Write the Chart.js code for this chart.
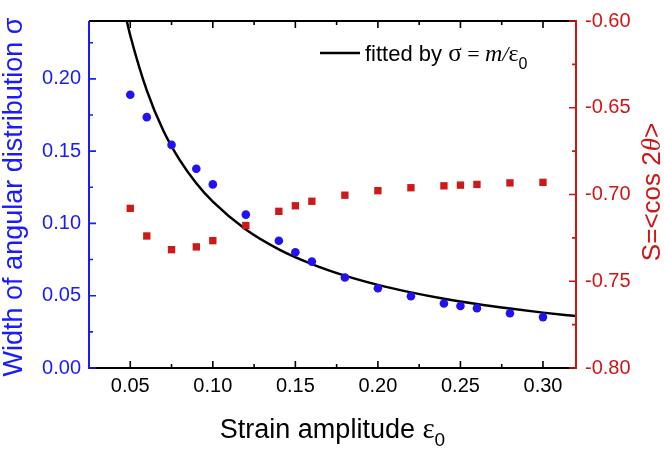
<!DOCTYPE html>
<html>
<head>
<meta charset="utf-8">
<script src="https://cdn.jsdelivr.net/npm/chart.js@4.4.1/dist/chart.umd.min.js"></script>
<style>
html,body{margin:0;padding:0;background:#fff;}
#wrap{width:664px;height:451px;position:relative;}
</style>
</head>
<body>
<div id="wrap"><canvas id="c" width="664" height="451"></canvas></div>
<script>
// ---- data ----
const strain = [0.05, 0.06, 0.075, 0.09, 0.10, 0.12, 0.14, 0.15, 0.16, 0.18, 0.20, 0.22, 0.24, 0.25, 0.26, 0.28, 0.30];
const widthSigma = [0.189, 0.1735, 0.1543, 0.1378, 0.127, 0.1061, 0.088, 0.0801, 0.0736, 0.0626, 0.0552, 0.0496, 0.0446, 0.0429, 0.0413, 0.0379, 0.0352];
const orderS = [-0.708, -0.7239, -0.7318, -0.7302, -0.7266, -0.7179, -0.7097, -0.7065, -0.7039, -0.7004, -0.6978, -0.6961, -0.695, -0.6946, -0.6942, -0.6933, -0.693];
const fitX = [0.0479, 0.05, 0.06, 0.07, 0.08, 0.09, 0.10, 0.12, 0.14, 0.16, 0.18, 0.20, 0.22, 0.24, 0.26, 0.28, 0.30, 0.32];
const fitY = [0.240, 0.230, 0.192, 0.1643, 0.1438, 0.1278, 0.115, 0.0958, 0.0821, 0.0719, 0.0639, 0.0575, 0.0523, 0.0479, 0.0442, 0.0411, 0.0383, 0.0359];

const xTickLabels = ['0.05', '0.10', '0.15', '0.20', '0.25', '0.30'];
const xMinorTicks = [0.075, 0.125, 0.175, 0.225, 0.275];
const leftTickLabels = ['0.00', '0.05', '0.10', '0.15', '0.20'];
const leftMinorTicks = [0.025, 0.075, 0.125, 0.175, 0.225];
const rightTickLabels = ['-0.80', '-0.75', '-0.70', '-0.65', '-0.60'];
const rightMinorTicks = [-0.775, -0.725, -0.675, -0.625];

const BLUE = '#1a1aff';
const BLUE_PT = '#2211f2';
const RED = '#d01515';
const RED_PT = '#cc1a1a';
const SANS = '"Liberation Sans", Arial, sans-serif';
const SERIF = '"Liberation Serif", "Times New Roman", serif';

function setTicks(labels) {
  return function (s) { s.ticks = labels.map(l => ({ value: parseFloat(l) })); };
}

// draw a run of text segments [text, font, dy]
function drawRun(ctx, segs, x, y, align) {
  let total = 0;
  segs.forEach(s => { ctx.font = s[1]; total += ctx.measureText(s[0]).width; });
  let cx = align === 'center' ? x - total / 2 : x;
  ctx.textAlign = 'left';
  segs.forEach(s => {
    ctx.font = s[1];
    ctx.fillText(s[0], cx, y + (s[2] || 0));
    cx += ctx.measureText(s[0]).width;
  });
}

const decor = {
  id: 'decor',
  afterDatasetsDraw(chart) {
    const ctx = chart.ctx;
    const x = chart.scales.x, yl = chart.scales.yl, yr = chart.scales.yr;
    const a = chart.chartArea;
    ctx.save();
    ctx.lineCap = 'butt';
    // axis lines
    ctx.lineWidth = 2;
    ctx.strokeStyle = '#000';
    ctx.beginPath();
    ctx.moveTo(a.left, a.bottom); ctx.lineTo(a.right, a.bottom);
    ctx.moveTo(a.left, a.top); ctx.lineTo(a.right, a.top);
    ctx.stroke();
    ctx.strokeStyle = BLUE;
    ctx.beginPath(); ctx.moveTo(a.left, a.top); ctx.lineTo(a.left, a.bottom + 1); ctx.stroke();
    ctx.strokeStyle = RED;
    ctx.beginPath(); ctx.moveTo(a.right, a.top - 1); ctx.lineTo(a.right, a.bottom + 1); ctx.stroke();
    // ticks (inward)
    ctx.lineWidth = 1.6;
    ctx.strokeStyle = '#000';
    ctx.beginPath();
    xTickLabels.forEach(l => {
      const px = x.getPixelForValue(parseFloat(l));
      ctx.moveTo(px, a.bottom); ctx.lineTo(px, a.bottom - 7);
      ctx.moveTo(px, a.top); ctx.lineTo(px, a.top + 7);
    });
    xMinorTicks.forEach(v => {
      const px = x.getPixelForValue(v);
      ctx.moveTo(px, a.bottom); ctx.lineTo(px, a.bottom - 4);
      ctx.moveTo(px, a.top); ctx.lineTo(px, a.top + 4);
    });
    ctx.stroke();
    ctx.strokeStyle = BLUE;
    ctx.beginPath();
    leftTickLabels.forEach(l => {
      const py = yl.getPixelForValue(parseFloat(l));
      ctx.moveTo(a.left, py); ctx.lineTo(a.left + 7, py);
    });
    leftMinorTicks.forEach(v => {
      const py = yl.getPixelForValue(v);
      ctx.moveTo(a.left, py); ctx.lineTo(a.left + 4, py);
    });
    ctx.stroke();
    ctx.strokeStyle = RED;
    ctx.beginPath();
    rightTickLabels.forEach(l => {
      const py = yr.getPixelForValue(parseFloat(l));
      ctx.moveTo(a.right, py); ctx.lineTo(a.right - 7, py);
    });
    rightMinorTicks.forEach(v => {
      const py = yr.getPixelForValue(v);
      ctx.moveTo(a.right, py); ctx.lineTo(a.right - 4, py);
    });
    ctx.stroke();

    // legend
    ctx.strokeStyle = '#000';
    ctx.lineWidth = 2.5;
    ctx.beginPath(); ctx.moveTo(320, 53); ctx.lineTo(360, 53); ctx.stroke();
    ctx.fillStyle = '#000';
    ctx.textBaseline = 'alphabetic';
    drawRun(ctx, [
      ['fitted by ', '22px ' + SANS],
      ['\u03C3', '25px ' + SERIF],
      [' = ', '22px ' + SERIF],
      ['m', 'italic 24px ' + SERIF],
      ['/', 'italic 22px ' + SERIF],
      ['\u03B5', '24px ' + SERIF],
      ['0', '16px ' + SANS, 8]
    ], 365, 61, 'left');

    // x title
    ctx.fillStyle = '#000';
    drawRun(ctx, [
      ['Strain amplitude ', '27px ' + SANS],
      ['\u03B5', '29px ' + SERIF],
      ['0', '19px ' + SANS, 8]
    ], (a.left + a.right) / 2, 438, 'center');

    // left title
    ctx.save();
    ctx.translate(15, 197);
    ctx.rotate(-Math.PI / 2);
    ctx.fillStyle = BLUE;
    ctx.textBaseline = 'middle';
    drawRun(ctx, [
      ['Width of angular distribution ', '27px ' + SANS],
      ['\u03C3', '27px ' + SANS]
    ], 0, 0, 'center');
    ctx.restore();

    // right title
    ctx.save();
    ctx.translate(653, 192);
    ctx.rotate(-Math.PI / 2);
    ctx.fillStyle = RED;
    ctx.textBaseline = 'middle';
    drawRun(ctx, [
      ['S=<cos 2', '26px ' + SANS],
      ['\u03B8', 'italic 27px ' + SERIF],
      ['>', '26px ' + SANS]
    ], 0, 0, 'center');
    ctx.restore();

    ctx.restore();
  }
};

new Chart(document.getElementById('c'), {
  type: 'scatter',
  data: {
    datasets: [
      {
        label: 'fit',
        type: 'line',
        data: fitX.map((v, i) => ({ x: v, y: fitY[i] })),
        yAxisID: 'yl',
        borderColor: '#000',
        borderWidth: 2.5,
        pointRadius: 0,
        fill: false,
        cubicInterpolationMode: 'monotone',
        order: 3
      },
      {
        label: 'width',
        data: strain.map((v, i) => ({ x: v, y: widthSigma[i] })),
        yAxisID: 'yl',
        pointStyle: 'circle',
        pointRadius: 4.3,
        pointBorderWidth: 0,
        backgroundColor: BLUE_PT,
        borderColor: BLUE_PT,
        order: 1
      },
      {
        label: 'S',
        data: strain.map((v, i) => ({ x: v, y: orderS[i] })),
        yAxisID: 'yr',
        pointStyle: 'rect',
        pointRadius: 5.2,
        pointBorderWidth: 0,
        backgroundColor: RED_PT,
        borderColor: RED_PT,
        order: 2
      }
    ]
  },
  options: {
    responsive: false,
    devicePixelRatio: 1,
    animation: false,
    layout: { padding: { top: 10, left: 0, right: 0, bottom: 0 } },
    plugins: { legend: { display: false }, tooltip: { enabled: false }, title: { display: false } },
    scales: {
      x: {
        type: 'linear', position: 'bottom', min: 0.025, max: 0.32,
        grid: { display: false, drawTicks: false }, border: { display: false },
        afterBuildTicks: setTicks(xTickLabels),
        afterFit: s => { s.height = 83; },
        ticks: { color: '#000', font: { family: SANS, size: 20 }, padding: 6, maxRotation: 0,
          callback: v => xTickLabels.find(l => Math.abs(parseFloat(l) - v) < 1e-9) }
      },
      yl: {
        type: 'linear', position: 'left', min: 0, max: 0.24,
        grid: { display: false, drawTicks: false }, border: { display: false },
        afterBuildTicks: setTicks(leftTickLabels),
        afterFit: s => { s.width = 89; },
        ticks: { color: BLUE, font: { family: SANS, size: 20 }, padding: 8,
          callback: v => leftTickLabels.find(l => Math.abs(parseFloat(l) - v) < 1e-9) }
      },
      yr: {
        type: 'linear', position: 'right', min: -0.80, max: -0.60,
        grid: { display: false, drawTicks: false }, border: { display: false },
        afterBuildTicks: setTicks(rightTickLabels),
        afterFit: s => { s.width = 88; },
        ticks: { color: RED, font: { family: SANS, size: 20 }, padding: 9,
          callback: v => rightTickLabels.find(l => Math.abs(parseFloat(l) - v) < 1e-9) }
      }
    }
  },
  plugins: [decor]
});
</script>
</body>
</html>
